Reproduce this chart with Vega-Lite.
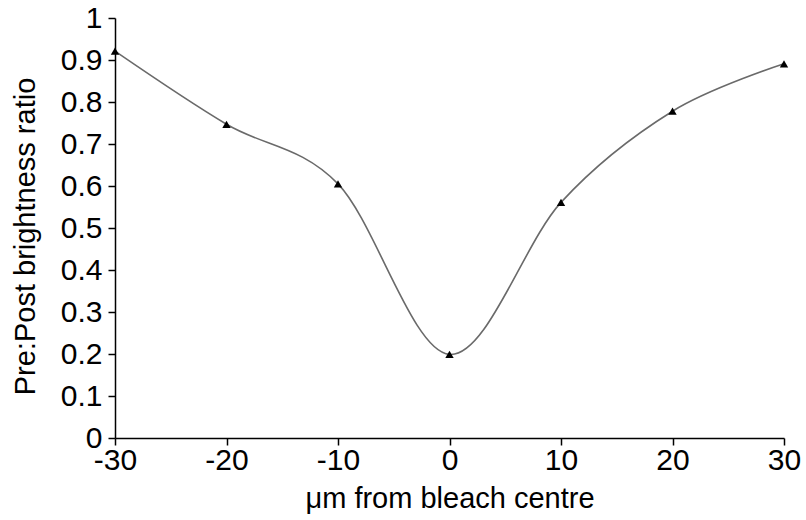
{
  "$schema": "https://vega.github.io/schema/vega-lite/v6.json",
  "width": 669,
  "height": 420,
  "autosize": {"type": "none"},
  "padding": {"left": 115, "top": 18, "right": 22, "bottom": 82},
  "background": "white",
  "data": {"values": [
    {"x": -30, "y": 0.921},
    {"x": -20, "y": 0.747},
    {"x": -10, "y": 0.605},
    {"x": 0, "y": 0.199},
    {"x": 10, "y": 0.561},
    {"x": 20, "y": 0.778},
    {"x": 30, "y": 0.891}
  ]},
  "config": {
    "view": {"stroke": null},
    "font": "Liberation Sans",
    "axis": {
      "domainColor": "black",
      "domainWidth": 1.5,
      "tickColor": "black",
      "tickWidth": 1.5,
      "tickSize": 7,
      "grid": false,
      "labelFont": "Liberation Sans",
      "labelFontSize": 30,
      "labelColor": "black",
      "titleFont": "Liberation Sans",
      "titleFontSize": 29,
      "titleFontWeight": "normal",
      "titleColor": "black"
    }
  },
  "layer": [
    {
      "mark": {"type": "line", "interpolate": "cardinal", "color": "#6a6a6a", "strokeWidth": 1.6},
      "encoding": {
        "x": {"field": "x", "type": "quantitative", "scale": {"domain": [-30, 30], "nice": false},
          "axis": {"title": "μm from bleach centre", "values": [-30, -20, -10, 0, 10, 20, 30], "labelExpr": "toString(datum.value)", "labelPadding": 0, "labelFlush": false, "titleY": 69, "titleBaseline": "alphabetic"}},
        "y": {"field": "y", "type": "quantitative", "scale": {"domain": [0, 1], "nice": false},
          "axis": {"title": "Pre:Post brightness ratio", "values": [0, 0.1, 0.2, 0.3, 0.4, 0.5, 0.6, 0.7, 0.8, 0.9, 1], "labelExpr": "toString(datum.value)", "labelPadding": 6, "labelFlush": false, "titleX": -90, "titleY": 218, "titleBaseline": "middle"}}
      }
    },
    {
      "mark": {"type": "point", "shape": "triangle-up", "filled": true, "color": "black", "size": 70, "opacity": 1},
      "encoding": {
        "x": {"field": "x", "type": "quantitative"},
        "y": {"field": "y", "type": "quantitative"}
      }
    }
  ]
}
